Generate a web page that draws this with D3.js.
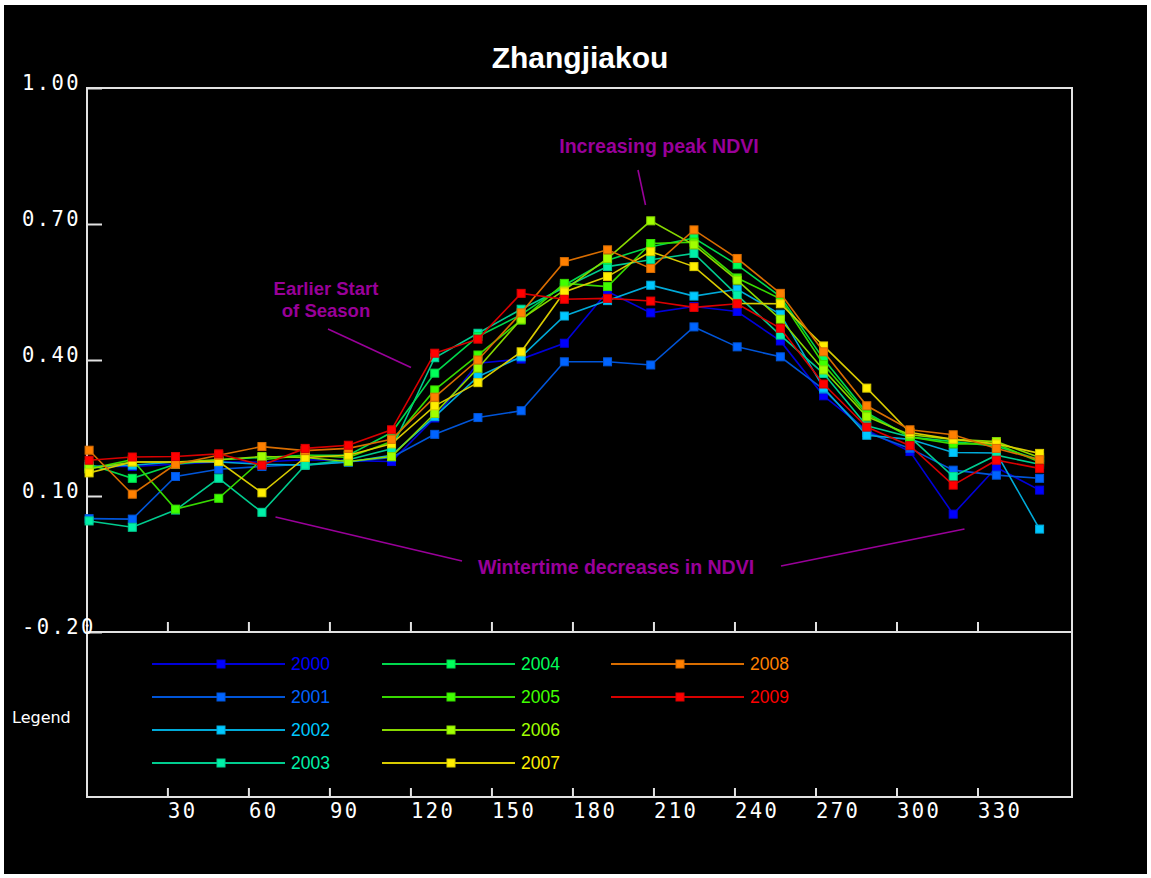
<!DOCTYPE html>
<html>
<head>
<meta charset="utf-8">
<script src="https://cdn.jsdelivr.net/npm/d3@7/dist/d3.min.js"></script>
<style>
  html, body { margin: 0; padding: 0; background: #ffffff; }
  svg { display: block; }
</style>
</head>
<body>
<svg id="chart" width="1151" height="878"></svg>
<script>
// Day of year of each 16-day composite
const days = [1, 17, 33, 49, 65, 81, 97, 113, 129, 145, 161, 177, 193, 209, 225, 241, 257, 273, 289, 305, 321, 337, 353];

const years = ["2000", "2001", "2002", "2003", "2004", "2005", "2006", "2007", "2008", "2009"];
const yearColors = ["#0000ff", "#0064ff", "#00c8ff", "#00f0a8", "#00ff5a", "#40ff00", "#a0ff00", "#ffee00", "#ff8000", "#ff0000"];

// NDVI per composite, one array per year
const ndvi2000 = [0.165, 0.165, 0.170, 0.175, 0.175, 0.180, 0.178, 0.176, 0.272, 0.393, 0.402, 0.437, 0.551, 0.504, 0.518, 0.507, 0.442, 0.321, 0.245, 0.198, 0.060, 0.163, 0.113];
const ndvi2001 = [0.050, 0.049, 0.143, 0.159, 0.165, 0.170, 0.175, 0.185, 0.236, 0.273, 0.288, 0.396, 0.396, 0.389, 0.473, 0.429, 0.407, 0.335, 0.240, 0.205, 0.157, 0.146, 0.139];
const ndvi2002 = [0.165, 0.168, 0.175, 0.175, 0.170, 0.168, 0.175, 0.190, 0.275, 0.363, 0.407, 0.497, 0.531, 0.565, 0.541, 0.556, 0.501, 0.338, 0.234, 0.225, 0.196, 0.195, 0.027];
const ndvi2003 = [0.045, 0.031, 0.069, 0.139, 0.064, 0.168, 0.180, 0.204, 0.405, 0.459, 0.512, 0.560, 0.606, 0.621, 0.635, 0.543, 0.455, 0.370, 0.255, 0.230, 0.143, 0.190, 0.170];
const ndvi2004 = [0.170, 0.139, 0.170, 0.180, 0.185, 0.190, 0.190, 0.240, 0.371, 0.452, 0.500, 0.565, 0.620, 0.650, 0.669, 0.610, 0.540, 0.402, 0.284, 0.230, 0.220, 0.210, 0.180];
const ndvi2005 = [0.160, 0.180, 0.071, 0.095, 0.180, 0.190, 0.185, 0.220, 0.334, 0.411, 0.488, 0.569, 0.562, 0.657, 0.660, 0.581, 0.535, 0.390, 0.280, 0.230, 0.215, 0.215, 0.175];
const ndvi2006 = [0.160, 0.175, 0.175, 0.180, 0.187, 0.185, 0.176, 0.187, 0.282, 0.382, 0.490, 0.554, 0.624, 0.707, 0.654, 0.576, 0.490, 0.378, 0.275, 0.235, 0.225, 0.220, 0.185];
const ndvi2007 = [0.151, 0.175, 0.175, 0.176, 0.107, 0.185, 0.190, 0.215, 0.299, 0.350, 0.418, 0.550, 0.584, 0.639, 0.606, 0.525, 0.524, 0.431, 0.338, 0.240, 0.225, 0.215, 0.194];
const ndvi2008 = [0.201, 0.104, 0.170, 0.190, 0.209, 0.200, 0.205, 0.225, 0.318, 0.400, 0.504, 0.617, 0.643, 0.602, 0.687, 0.624, 0.547, 0.418, 0.299, 0.246, 0.235, 0.205, 0.180];
const ndvi2009 = [0.179, 0.186, 0.187, 0.193, 0.168, 0.205, 0.212, 0.246, 0.415, 0.446, 0.547, 0.534, 0.536, 0.530, 0.516, 0.524, 0.470, 0.347, 0.252, 0.211, 0.124, 0.179, 0.161];

const seriesValues = [ndvi2000, ndvi2001, ndvi2002, ndvi2003, ndvi2004, ndvi2005, ndvi2006, ndvi2007, ndvi2008, ndvi2009];

const yTickValues = [1.0, 0.7, 0.4, 0.1, -0.2];
const yTickLabels = ["1.00", "0.70", "0.40", "0.10", "-0.20"];
const xTickValues = [30, 60, 90, 120, 150, 180, 210, 240, 270, 300, 330];

const chartTitle = "Zhangjiakou";

// ---------------------------------------------------------------
const svg = d3.select("#chart");
const W = 1151, H = 878;

const frame = { left: 87, right: 1072, top: 88, plotBottom: 632, boxBottom: 797 };
const frameColor = "#e2e2e2";
const noteColor = "#990099";

const x = d3.scaleLinear().domain([0, 365]).range([86.4, 1072]);
const y = d3.scaleLinear().domain([-0.2, 1.0]).range([frame.plotBottom, frame.top]);

// black canvas inside a thin white margin
svg.append("rect").attr("x", 0).attr("y", 0).attr("width", W).attr("height", H).attr("fill", "#ffffff");
svg.append("rect").attr("x", 4).attr("y", 5).attr("width", W - 8).attr("height", H - 9).attr("fill", "#000000");

// title
svg.append("text")
  .attr("x", 580).attr("y", 68)
  .attr("text-anchor", "middle")
  .attr("font-family", "Liberation Sans, Arial, sans-serif")
  .attr("font-weight", "bold")
  .attr("font-size", 30)
  .attr("fill", "#ffffff")
  .text(chartTitle);

// frame: plot rectangle plus legend box below it
const frameG = svg.append("g").attr("stroke", frameColor).attr("stroke-width", 2).attr("fill", "none");
frameG.append("rect")
  .attr("x", frame.left).attr("y", frame.top)
  .attr("width", frame.right - frame.left)
  .attr("height", frame.boxBottom - frame.top);
frameG.append("line")
  .attr("x1", frame.left).attr("x2", frame.right)
  .attr("y1", frame.plotBottom).attr("y2", frame.plotBottom);

const tickFont = "DejaVu Sans Mono, monospace";

// y axis: ticks pointing into the plot, labels left-aligned with baseline on the tick
const yAxis = d3.axisRight(y)
  .tickValues(yTickValues)
  .tickSize(15)
  .tickFormat((d, i) => yTickLabels[i]);
const yAxisG = svg.append("g").attr("transform", `translate(${frame.left},0)`).call(yAxis);
yAxisG.select(".domain").remove();
yAxisG.selectAll(".tick line").attr("stroke", frameColor).attr("stroke-width", 2);
yAxisG.selectAll(".tick text")
  .attr("x", 22 - frame.left).attr("dy", 0).attr("y", 1)
  .attr("text-anchor", "start")
  .attr("fill", "#ffffff")
  .attr("font-family", tickFont)
  .attr("font-size", 20.5)
  .attr("letter-spacing", 2.4);

// x axis ticks along the plot bottom (no labels)
const xAxisTop = d3.axisTop(x).tickValues(xTickValues).tickSize(10).tickFormat("");
const xTopG = svg.append("g").attr("transform", `translate(0,${frame.plotBottom})`).call(xAxisTop);
xTopG.select(".domain").remove();
xTopG.selectAll(".tick line").attr("stroke", frameColor).attr("stroke-width", 2);

// x axis along the bottom of the legend box, labels starting at the tick
const xAxisBottom = d3.axisTop(x).tickValues(xTickValues).tickSize(9).tickFormat(d3.format("d"));
const xBotG = svg.append("g").attr("transform", `translate(0,${frame.boxBottom})`).call(xAxisBottom);
xBotG.select(".domain").remove();
xBotG.selectAll(".tick line").attr("stroke", frameColor).attr("stroke-width", 2);
xBotG.selectAll(".tick text")
  .attr("y", 21).attr("dy", 0)
  .attr("text-anchor", "start")
  .attr("fill", "#ffffff")
  .attr("font-family", tickFont)
  .attr("font-size", 20.5)
  .attr("letter-spacing", 2.4);

// annotations
const notes = svg.append("g").attr("fill", noteColor)
  .attr("font-family", "Liberation Sans, Arial, sans-serif")
  .attr("font-weight", "bold").attr("font-size", 19.5)
  .attr("text-anchor", "middle");
notes.append("text").attr("x", 659).attr("y", 153).text("Increasing peak NDVI");
notes.append("text").attr("x", 326).attr("y", 295).attr("font-size", 18.5).text("Earlier Start");
notes.append("text").attr("x", 326).attr("y", 317).attr("font-size", 18.5).text("of Season");
notes.append("text").attr("x", 616).attr("y", 574).text("Wintertime decreases in NDVI");

const pointers = [
  [638, 170, 645.5, 205],
  [328, 329, 411, 367.5],
  [275.5, 517, 462, 561],
  [781, 566, 964.5, 529]
];
svg.append("g").selectAll("line").data(pointers).join("line")
  .attr("x1", d => d[0]).attr("y1", d => d[1])
  .attr("x2", d => d[2]).attr("y2", d => d[3])
  .attr("stroke", noteColor).attr("stroke-width", 1.6);

// data series
const series = years.map((yr, i) => ({
  year: yr,
  color: yearColors[i],
  points: days.map((d, j) => ({ day: d, v: seriesValues[i][j] }))
}));

const lineGen = d3.line().x(p => x(p.day)).y(p => y(p.v));
const lineColor = c => d3.color(c).darker(0.45).formatHex();
const markerSize = 8;

const seriesG = svg.append("g").selectAll("g").data(series).join("g");
seriesG.append("path")
  .attr("d", s => lineGen(s.points))
  .attr("fill", "none")
  .attr("stroke", s => lineColor(s.color))
  .attr("stroke-width", 1.6);
seriesG.each(function (s) {
  d3.select(this).selectAll("rect").data(s.points).join("rect")
    .attr("x", p => x(p.day) - markerSize / 2)
    .attr("y", p => y(p.v) - markerSize / 2)
    .attr("width", markerSize).attr("height", markerSize)
    .attr("fill", s.color)
    .attr("stroke", lineColor(s.color))
    .attr("stroke-width", 1);
});

// legend
svg.append("text")
  .attr("x", 12).attr("y", 723)
  .attr("font-family", "DejaVu Sans, sans-serif")
  .attr("font-size", 16)
  .attr("fill", "#ffffff")
  .text("Legend");

const legendCols = [152, 382, 611];
const legendRows = [664, 697, 730, 763];
const legendG = svg.append("g").selectAll("g").data(series).join("g")
  .attr("transform", (s, i) => `translate(${legendCols[Math.floor(i / 4)]},${legendRows[i % 4]})`);
legendG.append("line")
  .attr("x1", 0).attr("x2", 133).attr("y1", 0).attr("y2", 0)
  .attr("stroke", s => lineColor(s.color)).attr("stroke-width", 2);
legendG.append("rect")
  .attr("x", 69 - markerSize / 2).attr("y", -markerSize / 2)
  .attr("width", markerSize).attr("height", markerSize)
  .attr("fill", s => s.color)
  .attr("stroke", s => lineColor(s.color)).attr("stroke-width", 1);
legendG.append("text")
  .attr("x", 139).attr("y", 6)
  .attr("font-family", "Liberation Sans, Arial, sans-serif")
  .attr("font-size", 17.5)
  .attr("fill", s => s.color)
  .text(s => s.year);
</script>
</body>
</html>
